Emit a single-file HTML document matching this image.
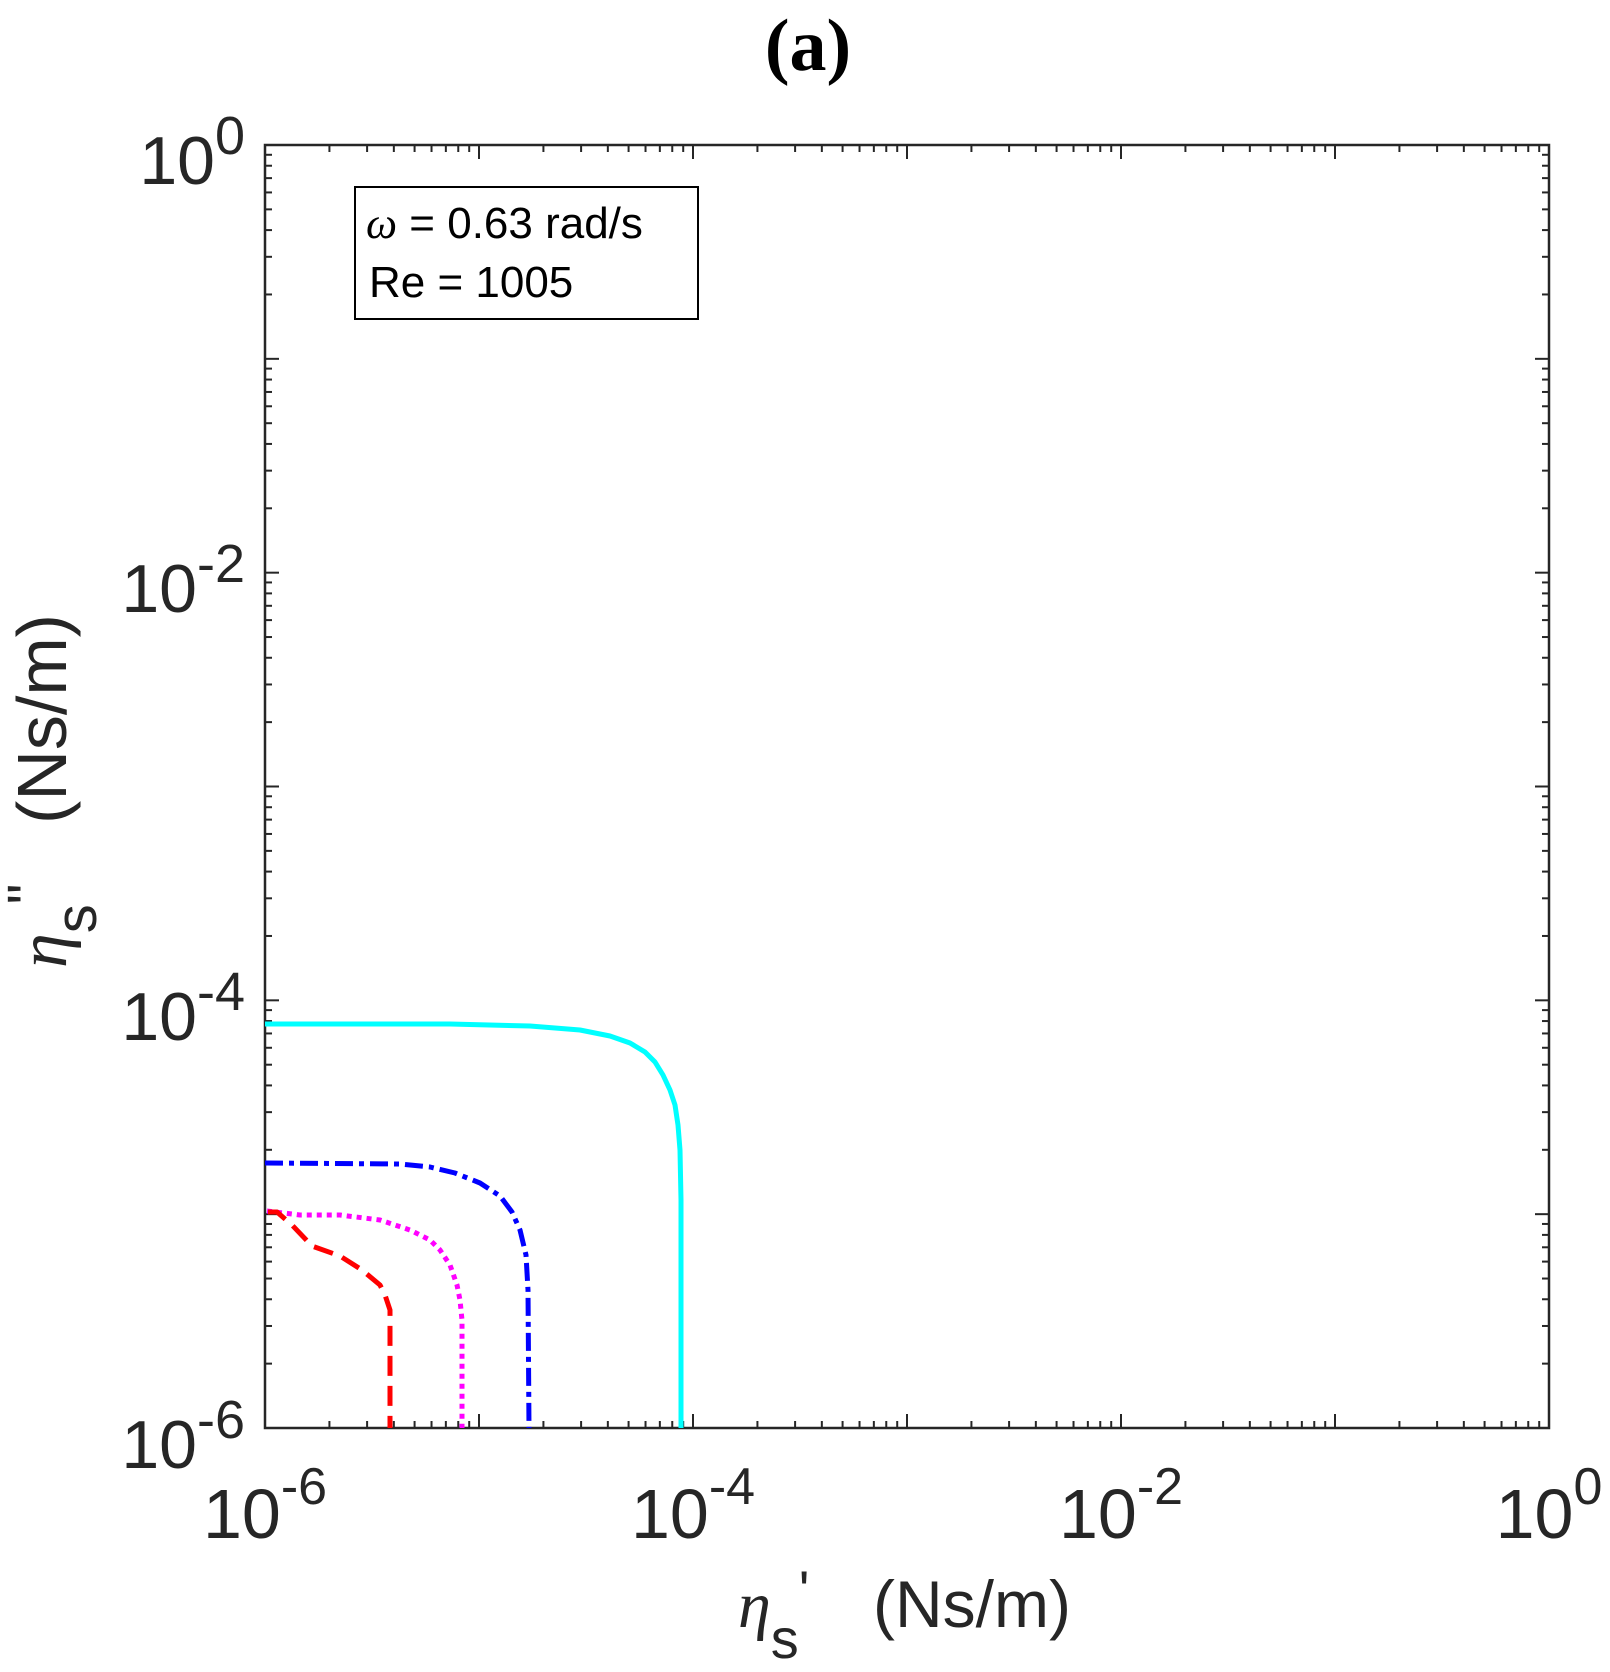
<!DOCTYPE html>
<html><head><meta charset="utf-8"><style>
html,body{margin:0;padding:0;background:#fff;}
svg{display:block;}
text{font-family:"Liberation Sans",sans-serif;fill:#262626;}
</style></head><body>
<svg width="1610" height="1672" viewBox="0 0 1610 1672" xmlns="http://www.w3.org/2000/svg">
<rect width="1610" height="1672" fill="#fff"/>
<text x="808" y="70" text-anchor="middle" style="font-family:'Liberation Serif',serif;font-weight:bold;font-size:74px;fill:#000">(a)</text>
<g id="ticks" stroke="#262626" stroke-width="2"></g>
<rect x="265" y="145" width="1284" height="1283" fill="none" stroke="#262626" stroke-width="2.5"/>
<g fill="none" stroke-linejoin="round">
<path d="M265,1024 L450,1024 L530,1026 L580,1030 L610,1036 L630,1043 L645,1052 L655,1062 L663,1075 L670,1090 L675,1105 L678,1125 L680,1150 L681,1200 L681,1428" stroke="#00ffff" stroke-width="5"/>
<path d="M265,1163 L400,1164 L430,1167 L455,1173 L480,1183 L500,1196 L512,1212 L520,1230 L526,1255 L528,1290 L529,1428" stroke="#0000ff" stroke-width="5" stroke-dasharray="18,6,5,6"/>
<path d="M267,1211 L300,1215 L340,1215 L380,1220 L410,1230 L430,1240 L440,1250 L450,1265 L457,1285 L460,1300 L462,1320 L462,1428" stroke="#ff00ff" stroke-width="5" stroke-dasharray="5,5"/>
<path d="M268,1212 L277,1212 L292,1225 L312,1246 L340,1256 L362,1270 L380,1285 L385,1295 L390,1310 L390,1428" stroke="#ff0000" stroke-width="5" stroke-dasharray="20,10"/>
</g>
<rect x="355" y="187" width="343" height="132" fill="#fff" stroke="#000" stroke-width="2"/>
<text x="366" y="238" style="font-size:44px;fill:#000"><tspan style="font-family:'Liberation Serif',serif;font-style:italic">ω</tspan> = 0.63 rad/s</text>
<text x="369" y="297" style="font-size:44px;fill:#000">Re = 1005</text>
<g style="font-size:68px" text-anchor="end">
<text x="245" y="184">10<tspan dy="-30" font-size="54">0</tspan></text>
<text x="245" y="612">10<tspan dy="-30" font-size="54">-2</tspan></text>
<text x="245" y="1040">10<tspan dy="-30" font-size="54">-4</tspan></text>
<text x="245" y="1468">10<tspan dy="-30" font-size="54">-6</tspan></text>
</g>
<g style="font-size:70px" text-anchor="middle">
<text x="265" y="1538">10<tspan dy="-34" font-size="52">-6</tspan></text>
<text x="693" y="1538">10<tspan dy="-34" font-size="52">-4</tspan></text>
<text x="1121" y="1538">10<tspan dy="-34" font-size="52">-2</tspan></text>
<text x="1549" y="1538">10<tspan dy="-34" font-size="52">0</tspan></text>
</g>
<text x="738" y="1627" style="font-size:66px"><tspan style="font-family:'Liberation Serif',serif;font-style:italic">η</tspan><tspan dy="31" font-size="56">s</tspan><tspan dy="-48" font-size="56">'</tspan><tspan dy="17" x="873">(Ns/m)</tspan></text>
<text transform="translate(66,719) rotate(-90)" text-anchor="middle" style="font-size:70px">(Ns/m)</text>
<text transform="translate(66,968) rotate(-90)" style="font-size:70px"><tspan style="font-family:'Liberation Serif',serif;font-style:italic">η</tspan><tspan dy="30" font-size="58">s</tspan><tspan dy="-48" font-size="58">"</tspan></text>
</svg>
<script>
(function(){
var g=document.getElementById('ticks'),ns='http://www.w3.org/2000/svg';
var L=265,R=1549,T=145,B=1428,dx=(R-L)/6,dy=(B-T)/6;
function ln(x1,y1,x2,y2){var l=document.createElementNS(ns,'line');l.setAttribute('x1',x1);l.setAttribute('y1',y1);l.setAttribute('x2',x2);l.setAttribute('y2',y2);g.appendChild(l);}
for(var d=0;d<6;d++){for(var k=1;k<10;k++){var f=Math.log10(k);var len=(k==1)?14:7;
var x=L+(d+f)*dx, y=B-(d+f)*dy;
if(k==1&&d==0)continue;
ln(x,B,x,B-len);ln(x,T,x,T+len);ln(L,y,L+len,y);ln(R,y,R-len,y);}}
})();
</script>
</body></html>
